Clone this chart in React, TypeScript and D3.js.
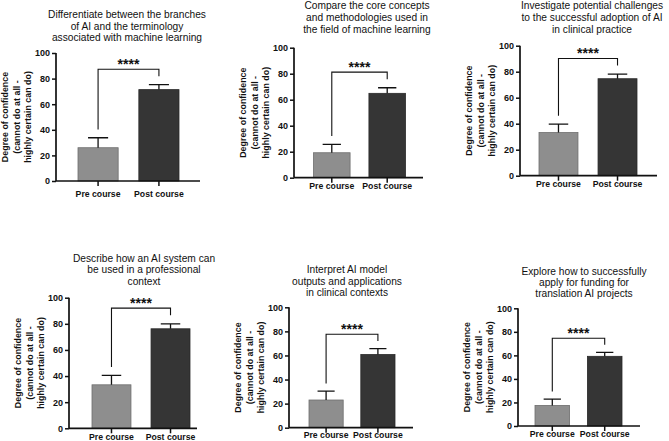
import { useEffect, useRef } from 'react';
import * as d3 from 'd3';

// survey items, one panel each
const titles = [
  ['Differentiate between the branches', 'of AI and the terminology', 'associated with machine learning'],
  ['Compare the core concepts', 'and methodologies used in', 'the field of machine learning'],
  ['Investigate potential challenges', 'to the successful adoption of AI', 'in clinical practice'],
  ['Describe how an AI system can', 'be used in a professional', 'context'],
  ['Interpret AI model', 'outputs and applications', 'in clinical contexts'],
  ['Explore how to successfully', 'apply for funding for', 'translation AI projects'],
];
const groups = ['Pre course', 'Post course'];
const preMean = [26, 19.2, 33.2, 33.3, 23, 17.5];
const preSem = [7.8, 6.4, 6.5, 7.2, 7.3, 5.3];
const postMean = [71.4, 64.9, 74.6, 76.2, 60.8, 59.2];
const postSem = [3.9, 4.3, 3.6, 3.8, 4.8, 3.3];
const significance = ['****', '****', '****', '****', '****', '****'];
const yTicks = [0, 20, 40, 60, 80, 100];
const yTitle = ['Degree of confidence', '(cannot do at all -', 'highly certain can do)'];

// where each panel sits on the page
const panels = [
  { tx: 127, ty: 18.3, lh: 11.2, top: 53, bottom: 181, left: 56, right: 200, b0: 78, b1: 179, gap: 16 },
  { tx: 367, ty: 9.3, lh: 12, top: 47.7, bottom: 177.7, left: 294, right: 423, b0: 313.5, b1: 405.5, gap: 11 },
  { tx: 592, ty: 9.3, lh: 11.7, top: 45.7, bottom: 175.7, left: 520, right: 657, b0: 539, b1: 637, gap: 11.5 },
  { tx: 144, ty: 261.7, lh: 11.7, top: 297.7, bottom: 428.3, left: 69, right: 197, b0: 92, b1: 190, gap: 11.7 },
  { tx: 347, ty: 273.3, lh: 11.4, top: 307.3, bottom: 427.7, left: 289, right: 413, b0: 309, b1: 395, gap: 10.5 },
  { tx: 584, ty: 275, lh: 11.2, top: 308.3, bottom: 426, left: 518, right: 640, b0: 535, b1: 622, gap: 10.5 },
];

const barFill = ['#8e8e8e', '#353535'];
const font = "'Liberation Sans', Arial, sans-serif";

const App = () => {
  const svgRef = useRef<SVGSVGElement>(null);

  useEffect(() => {
    const svg = d3.select(svgRef.current);
    svg.selectAll('*').remove();
    svg.attr('font-family', font);

    panels.forEach((p, i) => {
      const g = svg.append('g');
      const means = [preMean[i], postMean[i]];
      const sems = [preSem[i], postSem[i]];

      const x = d3.scaleBand<string>().domain(groups).range([p.b0, p.b1]).paddingInner(0.34).paddingOuter(0);
      const y = d3.scaleLinear().domain([0, 100]).range([p.bottom, p.top]);
      const bw = x.bandwidth();
      const cx = (k: number) => (x(groups[k]) as number) + bw / 2;

      // title
      g.append('text')
        .attr('text-anchor', 'middle')
        .attr('font-size', 10.2)
        .attr('fill', '#111')
        .selectAll('tspan')
        .data(titles[i])
        .join('tspan')
        .attr('x', p.tx)
        .attr('y', (_, j) => p.ty + j * p.lh)
        .text((d) => d);

      // bars
      g.append('g')
        .selectAll('rect')
        .data(means)
        .join('rect')
        .attr('x', (_, k) => x(groups[k]) as number)
        .attr('y', (d) => y(d))
        .attr('width', bw)
        .attr('height', (d) => y(0) - y(d))
        .attr('fill', (_, k) => barFill[k])
        .attr('stroke', (_, k) => (k === 0 ? '#6e6e6e' : '#2a2a2a'))
        .attr('stroke-width', 0.8);

      // error bars (upper only)
      const err = g.append('g').attr('stroke', '#111').attr('stroke-width', 1.3).attr('fill', 'none');
      means.forEach((m, k) => {
        const cap = bw * 0.25;
        err.append('path').attr('d', `M${cx(k)},${y(m)}V${y(m + sems[k])}M${cx(k) - cap},${y(m + sems[k])}H${cx(k) + cap}`);
      });

      // y axis
      const yAxis = g
        .append('g')
        .attr('transform', `translate(${p.left},0)`)
        .call(d3.axisLeft(y).tickValues(yTicks).tickSize(4).tickPadding(2).tickFormat(d3.format('d')));
      yAxis.select('.domain').attr('stroke', '#111').attr('stroke-width', 1.7).attr('d', `M0,${p.bottom}V${p.top}`);
      yAxis.selectAll('.tick line').attr('stroke', '#111').attr('stroke-width', 1.5);
      yAxis.selectAll('.tick text').attr('font-size', 9).attr('font-weight', 'bold').attr('font-family', font).attr('fill', '#111');

      // x axis
      g.append('path')
        .attr('d', `M${p.left},${p.bottom}H${p.right}`)
        .attr('stroke', '#111')
        .attr('stroke-width', 1.7);
      groups.forEach((grp, k) => {
        g.append('line')
          .attr('x1', cx(k))
          .attr('x2', cx(k))
          .attr('y1', p.bottom)
          .attr('y2', p.bottom + 5)
          .attr('stroke', '#111')
          .attr('stroke-width', 1.5);
        g.append('text')
          .attr('x', cx(k))
          .attr('y', p.bottom + p.gap)
          .attr('text-anchor', 'middle')
          .attr('font-size', 8.7)
          .attr('font-weight', 'bold')
          .attr('fill', '#111')
          .text(grp);
      });

      // y axis title, three rotated lines
      g.append('text')
        .attr('transform', `translate(${p.left - 25},${(p.top + p.bottom) / 2}) rotate(-90)`)
        .attr('text-anchor', 'middle')
        .attr('font-size', 8.9)
        .attr('font-weight', 'bold')
        .attr('fill', '#111')
        .selectAll('tspan')
        .data(yTitle)
        .join('tspan')
        .attr('x', 0)
        .attr('y', (_, j) => (j - 2) * 11.3)
        .text((d) => d);

      // significance bracket
      const tops = means.map((m, k) => m + sems[k]);
      const peak = d3.max(tops) as number;
      const yTop = y(peak + 12);
      g.append('path')
        .attr('d', `M${cx(0)},${y(tops[0] + 6.5)}V${yTop}H${cx(1)}V${y(tops[1] + 6.5)}`)
        .attr('stroke', '#111')
        .attr('stroke-width', 1.1)
        .attr('fill', 'none');
      g.append('text')
        .attr('x', (cx(0) + cx(1)) / 2)
        .attr('y', yTop - 0.5)
        .attr('text-anchor', 'middle')
        .attr('font-size', 14)
        .attr('font-weight', 'bold')
        .attr('fill', '#111')
        .text(significance[i]);
    });
  }, []);

  return (
    <svg
      ref={svgRef}
      width={669}
      height={441}
      style={{ position: 'absolute', left: 0, top: 0, background: '#fff' }}
    />
  );
};

export default App;
